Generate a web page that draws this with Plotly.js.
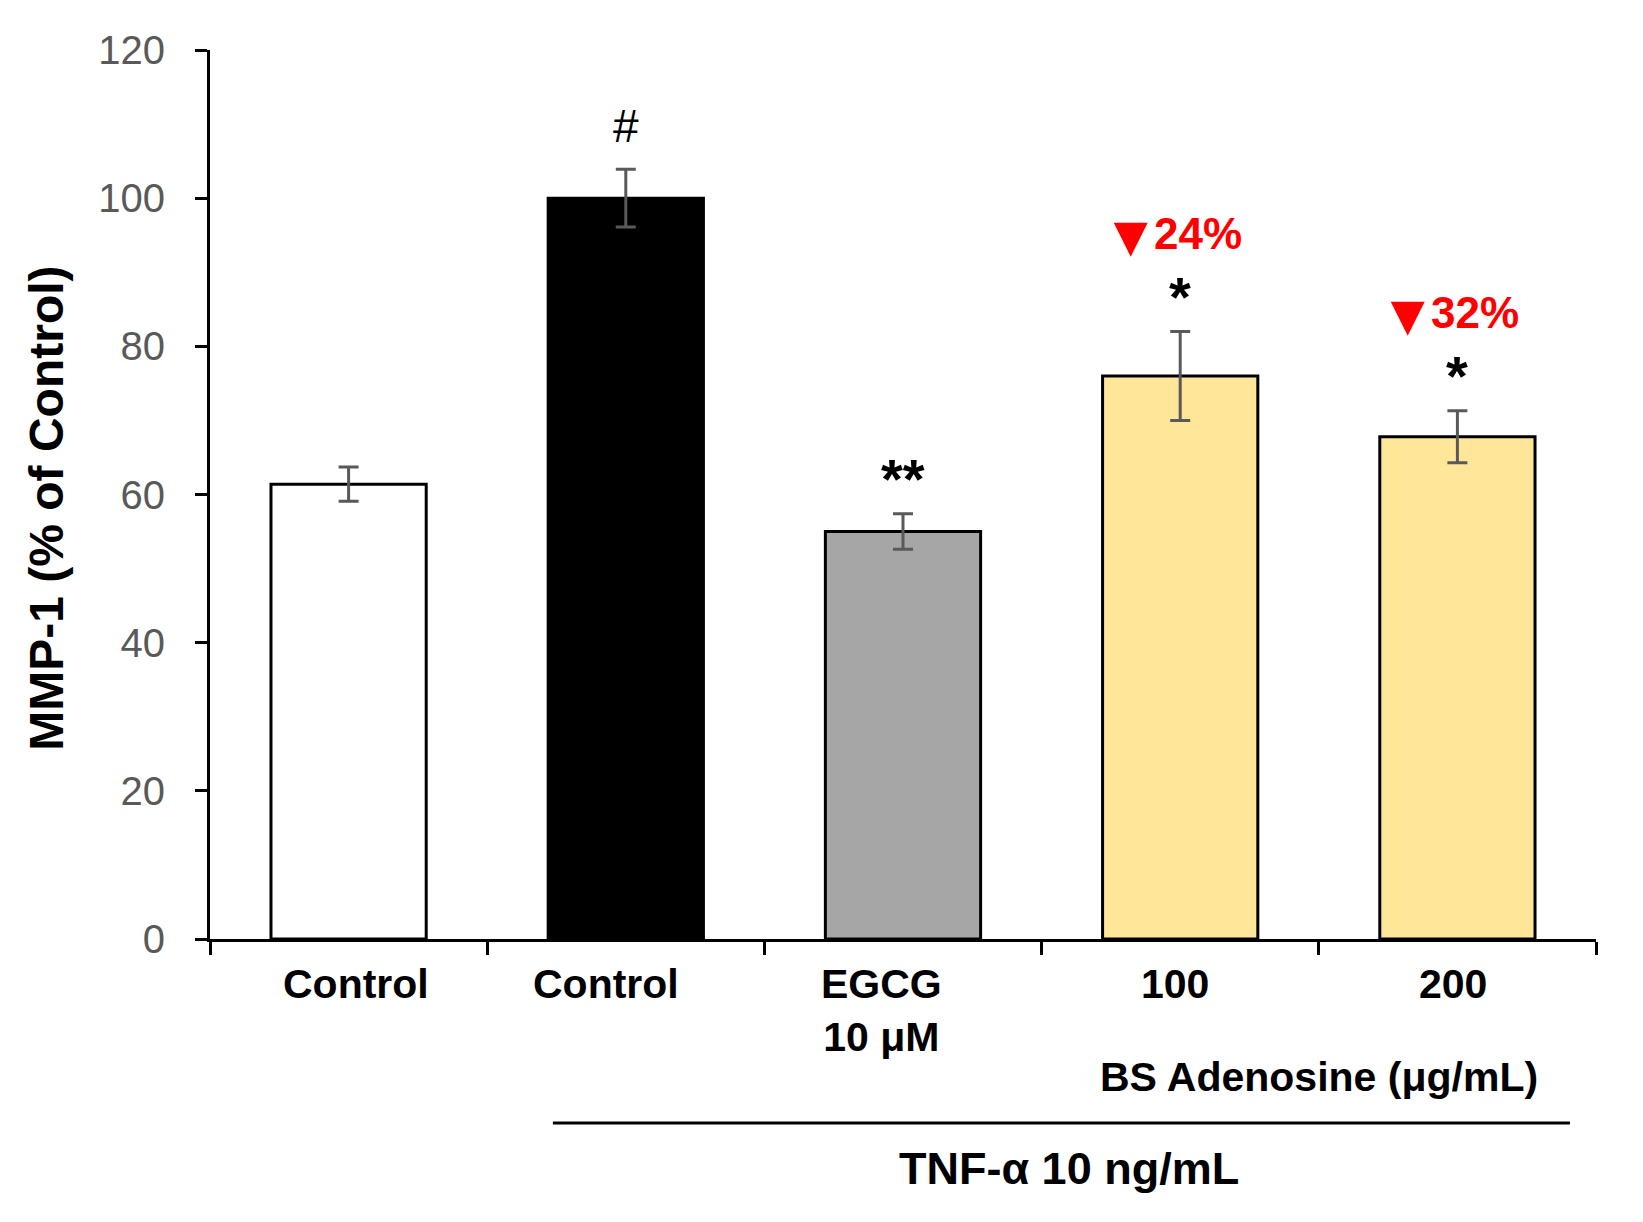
<!DOCTYPE html>
<html>
<head>
<meta charset="utf-8">
<script src="https://cdn.plot.ly/plotly-3.0.1.min.js"></script>
<style>html,body{margin:0;padding:0;background:#fff;}#chart{width:1643px;height:1222px;}</style>
</head>
<body>
<div id="chart"></div>
<script>
// ---- data ----
var categories = ["Control", "TNF Control", "EGCG 10 uM", "BS 100", "BS 200"];
var tickLabels = ["Control", "Control", "EGCG<br>10 μM", "100", "200"];
var values = [61.4, 100, 55.0, 76.0, 67.8];
var errors = [2.3, 3.9, 2.4, 6.0, 3.5];
var barColors = ["#ffffff", "#000000", "#a6a6a6", "#ffe699", "#ffe699"];
var sigMarks = ["", "#", "**", "*", "*"];
var reductionPct = ["", "", "", "24%", "32%"];
var yTicks = [0, 20, 40, 60, 80, 100, 120];
var groupLabel = "BS Adenosine (μg/mL)";
var treatmentLabel = "TNF-α 10 ng/mL";
var yTitle = "MMP-1 (% of Control)";

// ---- styling (pixel offsets of labels) ----
var labelShift = [7, -20, -22, -5, -4];

// ---- build ----
var FONT = "Liberation Sans, Arial, sans-serif";
var xs = categories.map(function (c, i) { return i; });

var trace = {
  type: "bar",
  x: xs,
  y: values,
  width: 0.56,
  marker: { color: barColors, line: { color: "#000000", width: 3 } },
  error_y: { type: "data", array: errors, visible: true, color: "#595959", thickness: 3, width: 10 },
  hoverinfo: "none"
};

var annotations = [];
tickLabels.forEach(function (t, i) {
  annotations.push({
    x: i, xref: "x", y: -0.023, yref: "paper", yanchor: "top", xanchor: "center",
    xshift: labelShift[i],
    text: "<b>" + t + "</b>", showarrow: false,
    font: { family: FONT, size: 41, color: "#000000" }
  });
});
sigMarks.forEach(function (m, i) {
  if (!m) return;
  var isHash = m === "#";
  annotations.push({
    x: i, xref: "x", y: values[i] + errors[i], yref: "y",
    yanchor: isHash ? "bottom" : "middle", xanchor: "center",
    yshift: isHash ? 15 : 35,
    text: isHash ? m : "<b>" + m + "</b>", showarrow: false,
    font: { family: FONT, size: isHash ? 46 : 56, color: "#000000" }
  });
});
reductionPct.forEach(function (r, i) {
  if (!r) return;
  annotations.push({
    x: i, xref: "x", y: values[i] + errors[i], yref: "y", yanchor: "middle", xanchor: "center",
    xshift: -50, yshift: 96,
    text: "▼", showarrow: false,
    font: { family: FONT, size: 58, color: "#ff0000" }
  });
  annotations.push({
    x: i, xref: "x", y: values[i] + errors[i], yref: "y", yanchor: "middle", xanchor: "center",
    xshift: 18, yshift: 98,
    text: "<b>" + r + "</b>", showarrow: false,
    font: { family: FONT, size: 44, color: "#ff0000" }
  });
});
annotations.push({
  x: 3.5, xref: "x", y: -0.155, yref: "paper", xanchor: "center", yanchor: "middle",
  text: "<b>" + groupLabel + "</b>", showarrow: false,
  font: { family: FONT, size: 41, color: "#000000" }
});
annotations.push({
  x: 2.6, xref: "x", y: -0.258, yref: "paper", xanchor: "center", yanchor: "middle",
  text: "<b>" + treatmentLabel + "</b>", showarrow: false,
  font: { family: FONT, size: 45, color: "#000000" }
});
annotations.push({
  x: -0.1176, xref: "paper", y: 0.484, yref: "paper", xanchor: "center", yanchor: "middle",
  textangle: -90, text: "<b>" + yTitle + "</b>", showarrow: false,
  font: { family: FONT, size: 48, color: "#000000" }
});

var layout = {
  width: 1643, height: 1222,
  margin: { l: 210, r: 47, t: 50, b: 283 },
  paper_bgcolor: "#ffffff", plot_bgcolor: "#ffffff",
  showlegend: false,
  xaxis: {
    type: "linear", range: [-0.5, categories.length - 0.5],
    tickmode: "array",
    tickvals: categories.map(function (c, i) { return i - 0.5; }).concat([categories.length - 0.5]),
    ticktext: categories.map(function () { return ""; }).concat([""]),
    ticks: "outside", ticklen: 13, tickwidth: 3, tickcolor: "#000000",
    showline: true, linecolor: "#000000", linewidth: 3,
    showgrid: false, zeroline: false, fixedrange: true
  },
  yaxis: {
    range: [0, 120], tickmode: "array", tickvals: yTicks,
    ticks: "outside", ticklen: 12, tickwidth: 3, tickcolor: "#000000",
    showline: true, linecolor: "#000000", linewidth: 3,
    showgrid: false, zeroline: false,
    tickfont: { family: FONT, size: 40, color: "#595959" },
    ticklabelstandoff: 22,
    fixedrange: true
  },
  shapes: [{
    type: "line", xref: "x", yref: "paper",
    x0: 0.737, x1: 4.406, y0: -0.207, y1: -0.207,
    line: { color: "#000000", width: 3 }
  }],
  annotations: annotations
};

Plotly.newPlot("chart", [trace], layout, { displayModeBar: false, staticPlot: true });
</script>
</body>
</html>
